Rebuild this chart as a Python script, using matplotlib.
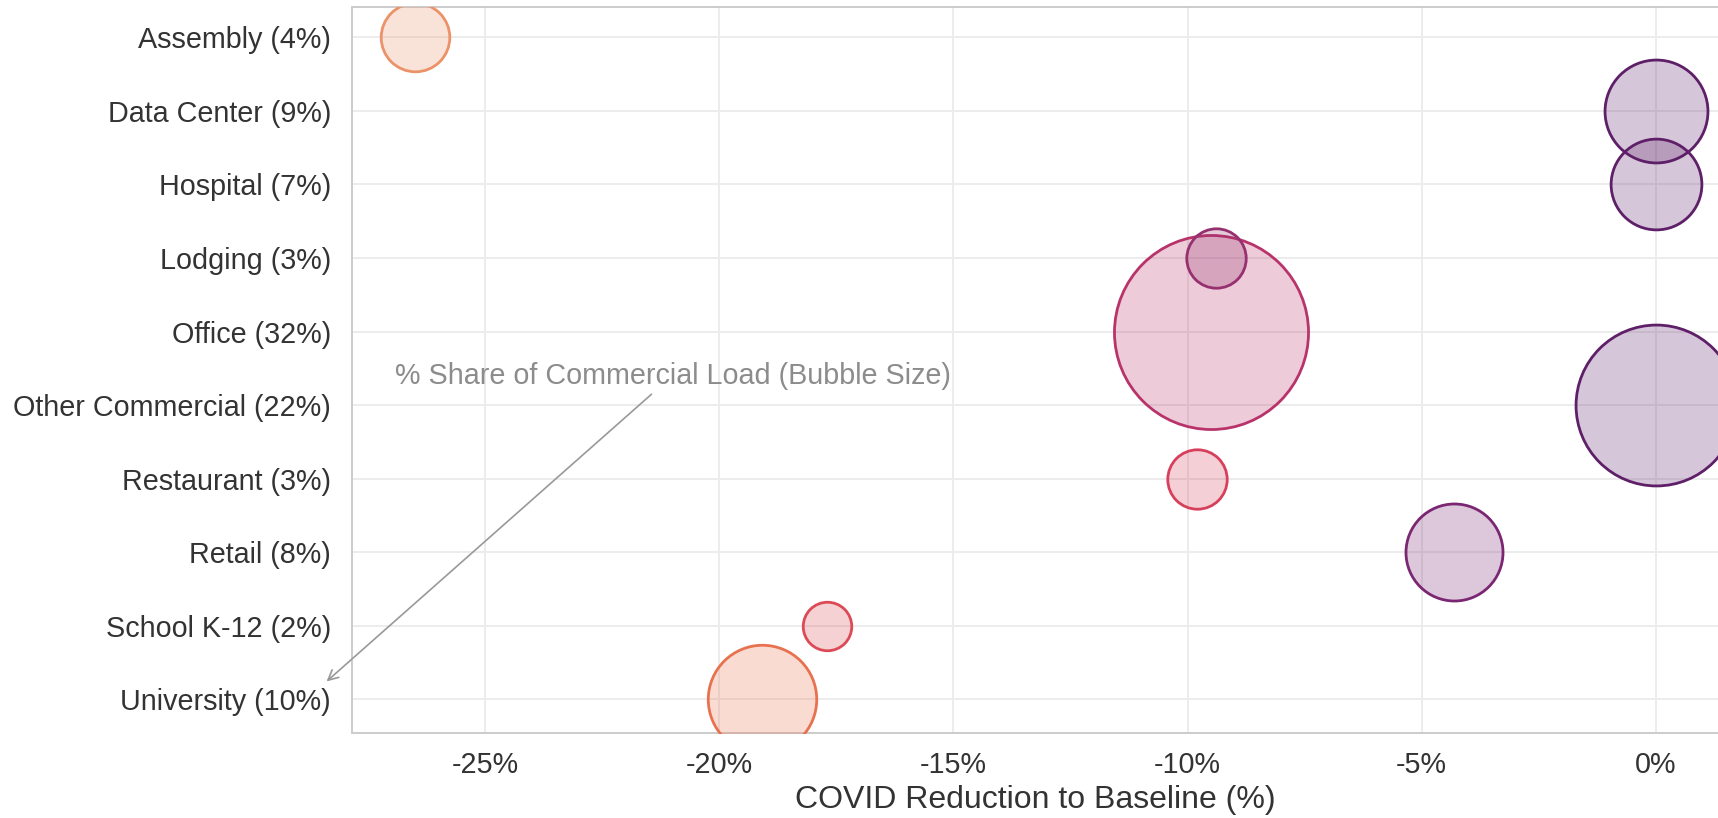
import matplotlib
matplotlib.use("Agg")
import matplotlib.pyplot as plt
import numpy as np

# ---- data ----
categories = ["Assembly", "Data Center", "Hospital", "Lodging", "Office",
              "Other Commercial", "Restaurant", "Retail", "School K-12", "University"]
load_share = [4, 9, 7, 3, 32, 22, 3, 8, 2, 10]          # % share of commercial load
covid_reduction = [-26.5, 0.0, 0.0, -9.4, -9.5, 0.0, -9.8, -4.3, -17.7, -19.1]  # %
x_ticks = [-25, -20, -15, -10, -5, 0]

# ---- styles ----
edge_colors = ["#eb9268", "#5e1f68", "#5e1f68", "#96306f", "#b8336a",
               "#5e1f68", "#d7405c", "#7a2672", "#dc4a55", "#e8714f"]
size_scale = 610
fill_alpha = 0.25

plt.rcParams["font.family"] = ["Liberation Sans", "DejaVu Sans"]

fig = plt.figure(figsize=(17.18, 8.18), dpi=100)
ax = fig.add_axes([0.2048, 0.104, 0.7952, 0.888])

ypos = np.arange(len(categories))
order = np.argsort(load_share)[::-1]
for rank, i in enumerate(order):
    ec = matplotlib.colors.to_rgba(edge_colors[i])
    fc = (ec[0], ec[1], ec[2], fill_alpha)
    ax.scatter([covid_reduction[i]], [ypos[i]], s=load_share[i] * size_scale,
               facecolors=[fc], edgecolors=[ec], linewidths=2.0, zorder=3 + rank)

ax.set_xlim(-27.85, 1.33)
ax.set_ylim(len(categories) - 1 + 0.46, -0.42)
ax.set_yticks(ypos)
ax.set_yticklabels([f"{c} ({s}%)" for c, s in zip(categories, load_share)])
ax.set_xticks(x_ticks)
ax.set_xticklabels([f"{t}%" for t in x_ticks])

ax.grid(True, color="#ececec", linewidth=1.4, zorder=0)
ax.set_axisbelow(True)
for side in ["top", "left", "bottom"]:
    ax.spines[side].set_color("#cccccc")
    ax.spines[side].set_linewidth(1.4)
ax.spines["right"].set_visible(False)

ax.tick_params(axis="both", length=0, labelsize=20.7, labelcolor="#333333")
ax.tick_params(axis="x", pad=13)
ax.tick_params(axis="y", pad=15)
ax.set_xlabel("COVID Reduction to Baseline (%)", fontsize=23, color="#333333", labelpad=4)

ax.annotate("% Share of Commercial Load (Bubble Size)",
            xy=(-28.39, 8.76), xytext=(-21.0, 4.6),
            ha="center", va="center", fontsize=20.7, color="#8c8c8c",
            annotation_clip=False,
            arrowprops=dict(arrowstyle="->", color="#999999", lw=1.2,
                            mutation_scale=18, shrinkA=2, shrinkB=0),
            zorder=20)

fig.savefig("out.png", dpi=100)
